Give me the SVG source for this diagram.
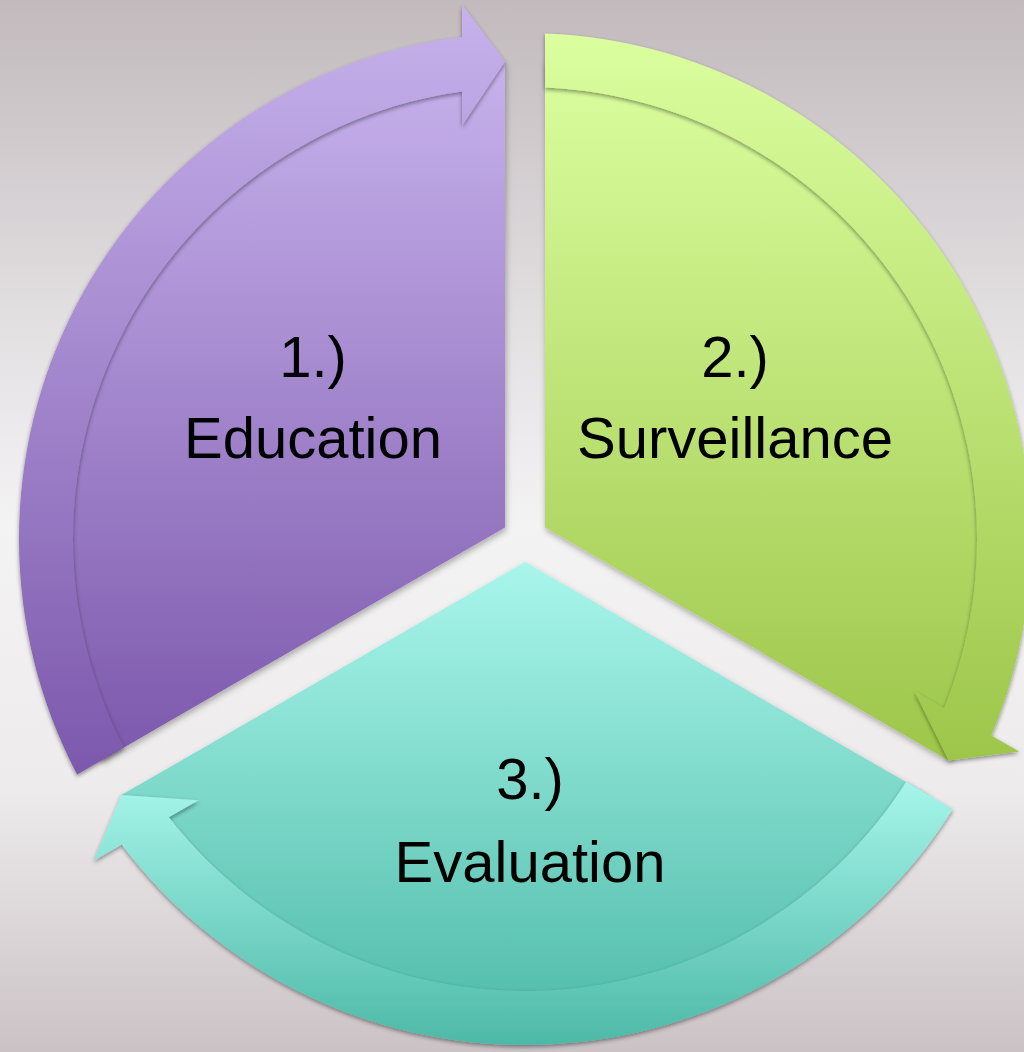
<svg xmlns="http://www.w3.org/2000/svg" width="1024" height="1052" viewBox="0 0 1024 1052">
  <defs>
    <linearGradient id="bg" x1="0" y1="0" x2="0" y2="1">
      <stop offset="0" stop-color="#C2BABD"/>
      <stop offset="0.3" stop-color="#E2DFE1"/>
      <stop offset="0.5" stop-color="#F4F3F4"/>
      <stop offset="0.75" stop-color="#EDEBEC"/>
      <stop offset="1" stop-color="#CBC2C5"/>
    </linearGradient>
    <linearGradient id="gPurple" x1="0" y1="0" x2="0" y2="1">
      <stop offset="0" stop-color="#C7B2EC"/>
      <stop offset="1" stop-color="#7C58AC"/>
    </linearGradient>
    <linearGradient id="gGreen" x1="0" y1="0" x2="0" y2="1">
      <stop offset="0" stop-color="#DBFE9F"/>
      <stop offset="1" stop-color="#9DC64A"/>
    </linearGradient>
    <linearGradient id="gTeal" x1="0" y1="0" x2="0" y2="1">
      <stop offset="0" stop-color="#A9F6EB"/>
      <stop offset="1" stop-color="#52BCAA"/>
    </linearGradient>
    <linearGradient id="gTealBand" x1="0" y1="0" x2="0" y2="1">
      <stop offset="0" stop-color="#A6F5EA"/>
      <stop offset="1" stop-color="#4DB9A7"/>
    </linearGradient>
    <filter id="shadow" x="-10%" y="-10%" width="120%" height="120%">
      <feDropShadow dx="1" dy="3" stdDeviation="3" flood-color="#000000" flood-opacity="0.3"/>
    </filter>
    <filter id="bandShadow" x="-10%" y="-10%" width="120%" height="120%">
      <feDropShadow dx="0" dy="2" stdDeviation="2" flood-color="#000000" flood-opacity="0.42"/>
    </filter>
    <style>
      .shape { filter: url(#shadow); }
      .band { filter: url(#bandShadow); }
      .label { font-family: "Liberation Sans", Arial, sans-serif; font-size: 58px; fill: #000000; text-anchor: middle; }
    </style>
  </defs>

  <rect x="0" y="0" width="1024" height="1052" fill="url(#bg)"/>

  <g id="node-1">
    <path class="shape" fill="url(#gPurple)" d="M505,527.45 L101.40,760.47 A478,478 0 0 1 505,61.42 Z"/>
    <text class="label" x="313" y="377">1.)</text>
    <text class="label" x="313" y="458">Education</text>
  </g>

  <g id="node-2">
    <path class="shape" fill="url(#gGreen)" d="M545,527.45 L545,61.42 A478,478 0 0 1 948.60,760.47 Z"/>
    <text class="label" x="735" y="377">2.)</text>
    <text class="label" x="735" y="458">Surveillance</text>
  </g>

  <g id="node-3">
    <path class="shape" fill="url(#gTeal)" d="M525,562.09 L928.60,795.11 A478,478 0 0 1 121.40,795.11 Z"/>
    <text class="label" x="530" y="799">3.)</text>
    <text class="label" x="530" y="882">Evaluation</text>
  </g>

  <g id="connectors">
    <path id="arrow-1-2" class="band" fill="url(#gPurple)" d="M123.94,747.46 L77.14,774.48 A506,506 0 0 1 462,36.94 L462,4.70 L505,61.42 L462,125.77 L462,91.41 A452,452 0 0 0 123.94,747.46 Z"/>
    <path id="arrow-2-3" class="band" fill="url(#gGreen)" d="M545,87.44 L545,33.40 A506,506 0 0 1 991.30,735.47 L1019.22,751.59 L948.60,760.47 L914.37,691.06 L944.13,708.24 A452,452 0 0 0 545,87.44 Z"/>
    <path id="arrow-3-1" class="band" fill="url(#gTealBand)" d="M906.06,782.10 L952.86,809.12 A506,506 0 0 1 121.70,844.59 L93.78,860.71 L121.40,795.11 L198.63,800.18 L168.87,817.36 A452,452 0 0 0 906.06,782.10 Z"/>
  </g>
</svg>
